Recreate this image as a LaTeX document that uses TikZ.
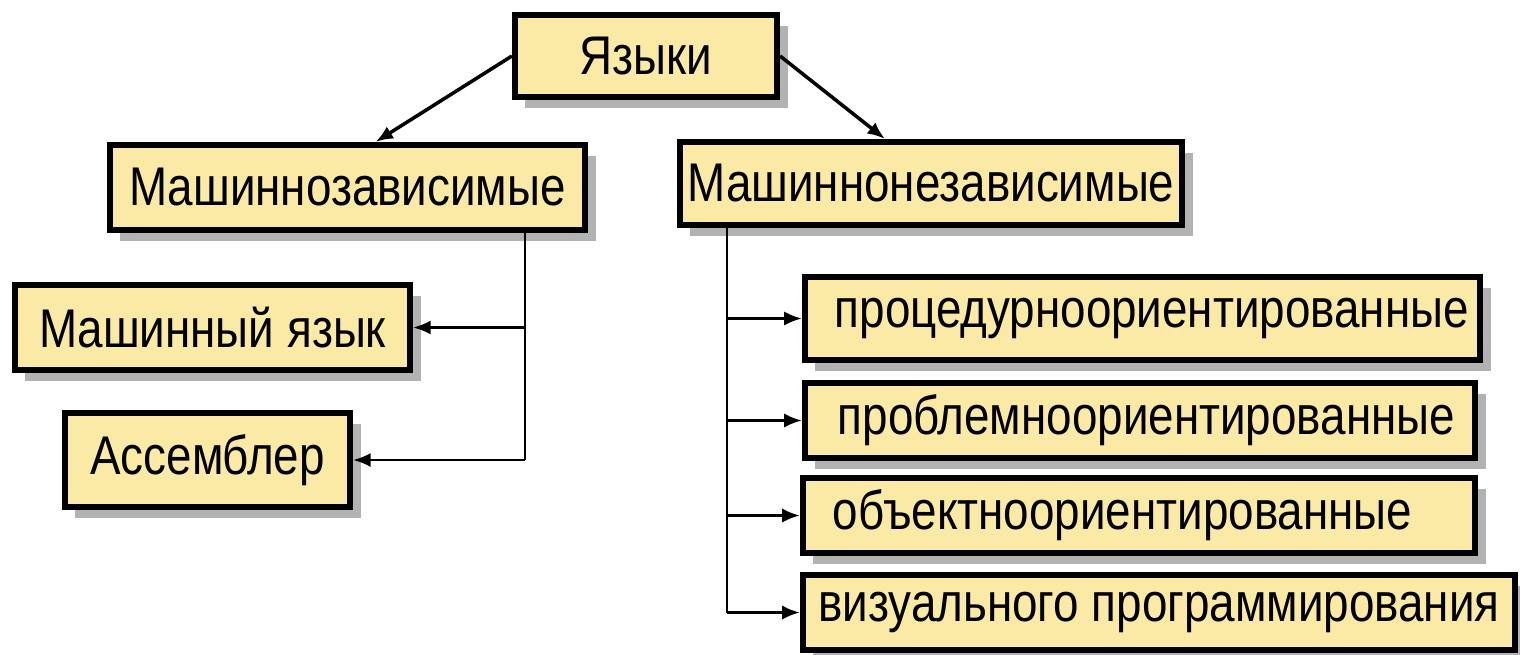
\documentclass[tikz,border=0pt]{standalone}
\usepackage{fontspec}
\setmainfont[FakeStretch=0.84]{Liberation Sans}
\usetikzlibrary{shadows,arrows.meta,calc}
\definecolor{boxfill}{RGB}{250,234,165}
\begin{document}
\begin{tikzpicture}[x=0.01cm,y=-0.01cm,
  box/.style={draw=black, line width=1.7pt, fill=boxfill, inner sep=0pt,
    font=\fontsize{15.5}{18}\selectfont,
    drop shadow={shadow xshift=3pt, shadow yshift=-3pt, opacity=0.3, fill=black}},
  rbox/.style={box, align=left, inner xsep=0.3cm},
  arr/.style={-{Latex[length=5pt,width=4pt]}, line width=0.7pt},
  link/.style={line width=0.7pt}]
\fill[white] (0,0) rectangle (1520,654);
\useasboundingbox (0,0) rectangle (1520,654);
\node[box, minimum width=2.62cm, minimum height=0.82cm] (lang) at (646,56) {Языки};
\node[box, minimum width=4.75cm, minimum height=0.85cm] (md) at (347.5,187.5) {Машиннозависимые};
\node[box, minimum width=5.02cm, minimum height=0.83cm] (mi) at (931,183.5) {Машиннонезависимые};
\node[box, minimum width=3.95cm, minimum height=0.85cm] (mj) at (212.5,327.5) {Машинный язык};
\node[box, minimum width=2.85cm, minimum height=0.94cm] (asm) at (207.5,460) {Ассемблер};
\node[rbox, text width=6.15cm, minimum height=0.83cm] (p1) at (1142.5,318.5) {процедурноориентированные};
\node[rbox, minimum height=0.75cm, inner xsep=0.33cm, text width=6.04cm] (p2) at (1140,420.5) {проблемноориентированные};
\node[rbox, text width=6.12cm, minimum height=0.75cm] (p3) at (1139,515.5) {объектноориентированные};
\node[box, minimum width=7.12cm, minimum height=0.75cm] (p4) at (1159,612.5) {визуального программирования};
\coordinate (lbus) at (525,0);
\coordinate (rbus) at (727,0);
\draw[arr, line width=1pt] (lang.west) -- ($(md.north)+(28,0)$);
\draw[arr, line width=1pt] (lang.east) -- ($(mi.north)+(-46,0)$);
\draw[link] (md.south -| lbus) -- (lbus |- asm.east);
\draw[arr] (lbus |- mj.east) -- (mj.east);
\draw[arr] (lbus |- asm.east) -- (asm.east);
\draw[link] (mi.south -| rbus) -- (rbus |- p4.west);
\draw[arr] (rbus |- p1.west) -- (p1.west);
\draw[arr] (rbus |- p2.west) -- (p2.west);
\draw[arr] (rbus |- p3.west) -- (p3.west);
\draw[arr] (rbus |- p4.west) -- (p4.west);
\end{tikzpicture}
\end{document}
